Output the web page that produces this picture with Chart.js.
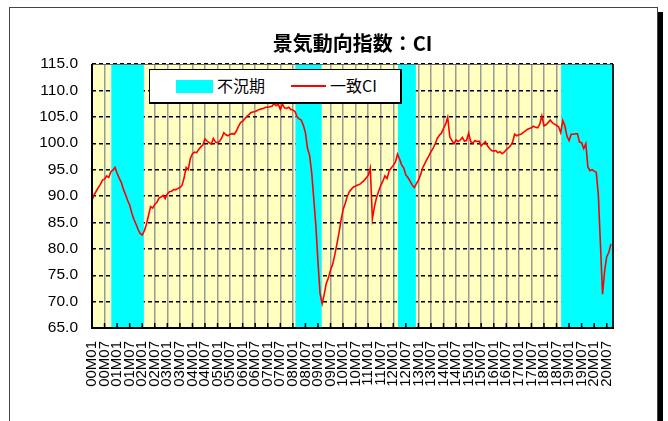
<!DOCTYPE html>
<html>
<head>
<meta charset="utf-8">
<script src="https://cdn.jsdelivr.net/npm/chart.js@4.4.1/dist/chart.umd.min.js"></script>
<style>
    html, body { margin: 0; padding: 0; background: #fff; }
    #wrap { position: relative; width: 668px; height: 421px; overflow: hidden; }
    #frame {
        position: absolute; left: 9px; top: 7px; width: 647px; height: 440px;
        border: 1px solid #444; box-shadow: 5px 5px 0 #000; background: #fff;
    }
    #ciChart { position: absolute; left: 0; top: 0; }
    #legend {
        position: absolute; left: 149px; top: 69px; width: 250px; height: 32px;
        border: 1px solid #000; border-right-width: 2px; border-bottom-width: 2px;
        background: #fff; font: 16px "Noto Sans CJK JP", sans-serif; color: #000;
    }
    #legend .sw { position: absolute; left: 26px; top: 10px; width: 37px; height: 13px; background: #00FFFF; }
    #legend .ln { position: absolute; left: 141px; top: 15px; width: 35px; height: 0; border-top: 2px solid #FF0000; }
    #legend .t1 { position: absolute; left: 67px; top: 3px; line-height: 24px; }
    #legend .t2 { position: absolute; left: 180px; top: 3px; line-height: 24px; }
</style>
</head>
<body>
<div id="wrap">
    <div id="frame"></div>
    <canvas id="ciChart" width="668" height="421"></canvas>
    <div id="legend">
        <span class="sw"></span><span class="t1">不況期</span>
        <span class="ln"></span><span class="t2">一致CI</span>
    </div>
</div>
<script>
// =========================
// Data
// =========================

const startYear = 2000;
const endYear = 2020;
const endMonth = 10;

// labelled months on the x axis (every half year)
const tickMonths = ["01", "07"];

// y axis range
const yMin = 65;
const yMax = 115;
const yStep = 5;

// 景気動向指数 一致CI, monthly, 00M01 - 20M10
const ciValues = [
    89.2, 90.2, 90.9, 91.6, 92.2, 93.0, 93.2, 93.8, 93.5, 94.6, 94.9, 95.4,         // 2000
    94.3, 93.4, 92.6, 91.3, 90.3, 89.2, 88.3, 86.8, 85.6, 84.7, 83.7, 82.9,         // 2001
    82.6, 83.4, 84.6, 86.3, 88.0, 87.7, 88.4, 88.8, 89.6, 89.8, 90.1, 89.5,         // 2002
    90.4, 90.8, 90.9, 91.2, 91.2, 91.4, 91.6, 92.0, 93.4, 95.4, 95.0, 97.1,         // 2003
    98.0, 98.3, 98.2, 98.8, 99.3, 99.7, 100.8, 100.4, 100.1, 99.8, 100.9, 100.2,    // 2004
    100.1, 100.4, 101.0, 102.0, 101.6, 101.4, 101.7, 101.8, 101.7, 102.3, 103.2, 103.9, // 2005
    104.2, 104.6, 105.1, 105.4, 105.8, 105.9, 106.0, 106.2, 106.4, 106.5, 106.6, 106.8, // 2006
    106.8, 106.9, 107.0, 107.5, 107.1, 107.4, 106.4, 107.4, 106.7, 106.6, 106.8, 106.4, // 2007
    106.3, 106.0, 105.0, 104.6, 104.4, 103.4, 102.0, 99.0, 97.7, 94.4, 89.4, 84.3,  // 2008
    77.5, 71.5, 69.6, 71.4, 73.5, 74.5, 76.0, 77.0, 78.8, 80.8, 82.9, 85.4,         // 2009
    87.4, 88.6, 89.9, 90.8, 91.3, 91.7, 91.9, 92.1, 92.2, 92.6, 92.9, 93.4,         // 2010
    93.9, 95.3, 85.7, 88.0, 89.7, 90.9, 92.0, 92.8, 93.8, 93.3, 94.7, 95.3,         // 2011
    95.8, 96.4, 97.9, 97.0, 95.9, 95.3, 94.0, 93.5, 92.8, 92.1, 91.6, 92.3,         // 2012
    93.0, 94.0, 95.3, 96.1, 96.9, 97.6, 98.4, 99.0, 99.9, 100.9, 101.5, 101.9,      // 2013
    102.8, 103.6, 104.9, 101.2, 100.5, 99.9, 100.6, 100.3, 100.6, 101.1, 100.4, 100.5, // 2014
    101.9, 100.3, 100.0, 100.5, 100.3, 100.4, 99.5, 99.9, 100.3, 99.5, 99.0, 98.6,  // 2015
    98.5, 98.6, 98.2, 98.4, 98.0, 98.3, 98.8, 99.1, 99.5, 100.2, 101.7, 101.4,      // 2016
    101.6, 101.7, 102.0, 102.3, 102.6, 102.8, 102.9, 103.2, 103.0, 102.9, 103.6, 105.2, // 2017
    103.3, 103.5, 103.9, 104.4, 103.9, 103.6, 103.4, 103.1, 102.0, 104.3, 103.3, 101.3, // 2018
    100.5, 101.7, 101.7, 101.8, 101.8, 100.2, 100.1, 99.0, 99.9, 95.5, 94.8, 95.0,  // 2019
    94.7, 94.5, 90.2, 80.8, 71.4, 75.8, 78.5, 79.3, 80.9, null                       // 2020
];

// 不況期 (shaded), first and last month
const recessions = [
    ["00M11", "02M01"],
    ["08M03", "09M02"],
    ["12M04", "12M11"],
    ["18M10", "20M10"]
];

// =========================
// Build categories
// =========================

const months = [];
for (let y = startYear; y <= endYear; y++) {
    for (let m = 1; m <= 12; m++) {
        if (y === endYear && m > endMonth) break;
        months.push(String(y % 100).padStart(2, "0") + "M" + String(m).padStart(2, "0"));
    }
}

const isLabelMonth = (i) => tickMonths.includes(months[i].slice(3));

const recessionBars = months.map((label, i) => {
    const inside = recessions.some(r =>
        i >= months.indexOf(r[0]) && i <= months.indexOf(r[1]));
    return inside ? yMax : null;
});

// =========================
// Plot area decoration
// =========================

const plotDecor = {
    id: "plotDecor",
    beforeDraw(chart) {
        const { ctx, chartArea: a } = chart;
        ctx.save();
        ctx.fillStyle = "#FFFFC0";
        ctx.fillRect(a.left, a.top, a.right - a.left, a.bottom - a.top);
        ctx.restore();
    },
    afterDatasetsDraw(chart) {
        const { ctx, chartArea: a, scales: { x } } = chart;
        ctx.save();

        // inside tick marks
        ctx.strokeStyle = "#000";
        ctx.lineWidth = 1.5;
        x.ticks.forEach((t, i) => {
            if (!isLabelMonth(i)) return;
            const px = x.getPixelForTick(i);
            ctx.beginPath();
            ctx.moveTo(px, a.bottom);
            ctx.lineTo(px, a.bottom - 5);
            ctx.stroke();
        });

        // top / right edge
        ctx.strokeStyle = "#666";
        ctx.lineWidth = 1;
        ctx.beginPath();
        ctx.moveTo(a.left, a.top + 0.5);
        ctx.lineTo(a.right, a.top + 0.5);
        ctx.stroke();
        ctx.strokeStyle = "#222";
        ctx.lineWidth = 2;
        ctx.beginPath();
        ctx.moveTo(a.right, a.top);
        ctx.lineTo(a.right, a.bottom);
        ctx.stroke();

        // axis lines
        ctx.strokeStyle = "#000";
        ctx.lineWidth = 2;
        ctx.beginPath();
        ctx.moveTo(a.left, a.top);
        ctx.lineTo(a.left, a.bottom);
        ctx.lineTo(a.right + 1, a.bottom);
        ctx.stroke();

        ctx.restore();
    }
};

// =========================
// Chart
// =========================

const ctx = document.getElementById("ciChart");

const chart = new Chart(ctx, {
    type: "bar",
    data: {
        labels: months,
        datasets: [{
            type: "line",
            label: "一致CI",
            data: ciValues,
            borderColor: "#FF0000",
            borderWidth: 1.6,
            pointRadius: 0,
            tension: 0,
            spanGaps: false,
            order: 0
        }, {
            type: "bar",
            label: "不況期",
            data: recessionBars,
            backgroundColor: "#00FFFF",
            borderWidth: 0,
            barPercentage: 1,
            categoryPercentage: 1,
            inflateAmount: 0.6,
            order: 1
        }]
    },
    options: {
        responsive: false,
        animation: false,
        devicePixelRatio: 1,
        layout: {
            padding: { left: 0, top: 0, right: 55, bottom: 0 }
        },
        plugins: {
            legend: { display: false },
            tooltip: { enabled: false },
            title: {
                display: true,
                text: "景気動向指数：CI",
                fullSize: false,
                color: "#000",
                font: { family: "'Noto Sans CJK JP'", size: 20, weight: "bold" },
                padding: { top: 31, bottom: 9 }
            }
        },
        scales: {
            x: {
                offset: false,
                grid: {
                    offset: false,
                    drawTicks: false,
                    lineWidth: 1.5,
                    color: (c) => isLabelMonth(c.index) ? "#9a9a9a" : "rgba(0,0,0,0)"
                },
                border: { display: false },
                ticks: {
                    autoSkip: false,
                    minRotation: 90,
                    maxRotation: 90,
                    padding: 13,
                    color: "#000",
                    font: { family: "'Liberation Sans'", size: 15 },
                    callback: (v, i) => isLabelMonth(i) ? months[i] : ""
                },
                afterFit: (s) => { s.height = 93; }
            },
            y: {
                min: yMin,
                max: yMax,
                grid: {
                    drawTicks: false,
                    color: "#000",
                    lineWidth: 1.4
                },
                border: { display: false, dash: [4, 3] },
                ticks: {
                    stepSize: yStep,
                    padding: 14,
                    color: "#000",
                    font: { family: "'Liberation Sans'", size: 15.5 },
                    callback: (v) => v.toFixed(1)
                },
                afterFit: (s) => { s.width = 92; }
            }
        }
    },
    plugins: [plotDecor]
});
</script>
</body>
</html>
